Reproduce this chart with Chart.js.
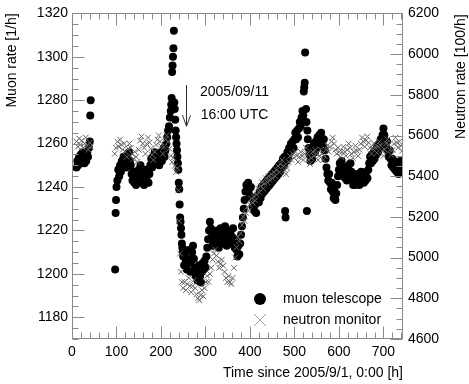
<!DOCTYPE html>
<html>
<head>
<meta charset="utf-8">
<script src="https://cdn.jsdelivr.net/npm/chart.js@4.4.1/dist/chart.umd.min.js"></script>
<style>
html,body{margin:0;padding:0;background:#fff;}
canvas{display:block;}
</style>
</head>
<body>
<canvas id="c" width="469" height="384" style="width:469px;height:384px"></canvas>
<script>
// ---------------- data ----------------
const xTicks = [0,100,200,300,400,500,600,700];
const muonTicks = [1180,1200,1220,1240,1260,1280,1300,1320];
const neutronTicks = [4600,4800,5000,5200,5400,5600,5800,6000,6200];

const muonHours = [
 10,12,14,16,18,20,22,24,26,28,30,32,34,36,38,40,41,42,
 97,98,99,100,102,104,106,108,110,112,114,116,118,120,122,124,126,128,130,
 132,134,136,138,140,142,144,146,148,150,152,154,156,158,160,162,164,166,168,170,172,174,
 176,178,180,182,184,186,188,190,192,194,196,198,200,202,204,206,208,210,212,214,216,218,220,222,223,224,
 225,226,227,228,229,230,231,232,233,234,235,236,237,238,239,240,241,242,243,244,245,246,247,248,249,
 250,252,254,256,258,260,262,264,266,268,270,272,274,276,278,280,282,284,286,288,290,292,294,296,298,300,
 302,304,306,308,310,312,314,316,318,320,322,324,326,328,330,332,334,336,338,340,342,344,346,348,350,
 352,354,356,358,360,362,364,366,368,370,372,374,376,378,380,382,384,386,388,390,392,394,396,398,400,
 402,404,406,408,410,412,414,416,418,420,422,424,426,428,430,432,434,436,438,440,442,444,446,448,450,
 452,454,456,458,460,462,464,466,468,470,472,474,476,478,479,480,482,484,486,488,490,492,494,496,498,500,
 502,504,506,508,510,512,514,516,518,520,521,522,523,524,526,527,528,529,530,
 532,534,536,538,540,542,544,546,548,550,552,554,556,558,560,562,564,566,568,570,572,574,576,578,580,
 582,584,586,588,590,592,594,596,598,600,602,604,606,608,610,612,614,616,618,620,622,624,626,628,630,
 632,634,636,638,640,642,644,646,648,650,652,654,656,658,660,662,664,666,668,670,672,674,676,678,680,
 682,684,686,688,690,692,694,696,698,700,702,704,706,708,710,712,714,716,718,720,722,724,726,728,730,732,734,736,738
];
const muonRates = [
 1249,1252,1250,1254,1251,1255,1252,1256,1253,1251,1255,1252,1256,1254,1258,1261,1273,1280,
 1202,1228,1234,1240,1243,1248,1245,1250,1247,1252,1249,1254,1250,1253,1249,1255,1251,1256,1252,
 1250,1246,1243,1247,1242,1245,1241,1246,1243,1248,1244,1250,1246,1242,1245,1241,1244,1248,1243,1247,1242,1246,
 1250,1253,1249,1254,1251,1256,1252,1255,1251,1254,1250,1253,1256,1252,1255,1258,1254,1257,1260,1263,1266,1268,1272,1275,1278,1281,
 1293,1296,1300,1304,1312,1279,1276,1271,1266,1263,1260,1257,1254,1251,1248,1242,1239,1232,1226,1224,1221,1218,1214,1212,1210,
 1208,1204,1210,1206,1202,1207,1211,1205,1201,1206,1210,1213,1207,1203,1199,1202,1197,1200,1204,1199,1196,1201,1205,1202,1206,1203,
 1208,1212,1216,1220,1224,1221,1217,1213,1216,1219,1218,1214,1220,1216,1212,1217,1221,1215,1219,1214,1218,1222,1217,1213,1216,
 1220,1215,1219,1214,1217,1221,1216,1212,1215,1211,1208,1213,1209,1214,1218,1222,1226,1230,1234,1238,1241,1238,1242,1239,1236,
 1240,1235,1231,1234,1229,1232,1228,1233,1236,1233,1238,1235,1240,1237,1241,1238,1242,1239,1243,1240,1244,1241,1245,1242,1246,
 1243,1247,1244,1248,1245,1249,1246,1250,1247,1251,1249,1253,1250,1254,1229,1226,1252,1256,1253,1258,1256,1260,1257,1261,1258,1262,
 1265,1262,1266,1263,1267,1270,1268,1272,1275,1273,1284,1286,1288,1302,1276,1270,1229,1266,1262,
 1258,1255,1252,1256,1253,1257,1260,1256,1261,1258,1263,1260,1264,1261,1265,1262,1259,1262,1257,1253,1249,1246,1243,1246,1242,
 1239,1242,1238,1235,1238,1234,1237,1241,1245,1248,1251,1248,1252,1249,1245,1248,1244,1247,1243,1246,1250,1247,1251,1247,1244,
 1241,1244,1241,1243,1246,1242,1245,1241,1244,1247,1243,1246,1242,1245,1243,1247,1244,1248,1251,1254,1251,1255,1252,1256,1253,
 1257,1255,1259,1256,1260,1258,1262,1260,1264,1267,1264,1261,1258,1261,1257,1254,1257,1253,1250,1253,1249,1252,1248,1251,1247,1250,1246,1249,1252
];

const neutronHours = [
 10,13,16,19,22,25,28,31,34,37,40,42,
 96,99,102,105,108,111,114,117,120,123,126,129,132,135,138,141,144,147,150,153,156,159,162,165,168,171,174,177,180,183,
 186,189,192,195,198,201,204,207,210,213,216,219,222,225,228,231,234,237,
 239,241,243,245,247,
 250,253,256,259,262,265,268,271,274,277,280,283,286,289,292,295,298,301,304,307,310,313,316,319,322,325,328,331,334,337,
 340,343,346,349,352,355,358,361,364,367,370,373,376,379,382,385,388,391,394,397,400,403,406,409,412,415,418,421,424,427,
 430,433,436,439,442,445,448,451,454,457,460,463,466,469,472,475,478,481,484,487,490,
 493,496,499,502,505,508,511,514,517,520,523,526,529,532,535,538,541,544,547,550,553,556,559,562,565,568,571,574,577,580,
 583,586,589,592,595,598,601,604,607,610,613,616,619,622,625,628,631,634,637,640,643,646,649,652,655,658,661,664,667,670,
 673,676,679,682,685,688,691,694,697,700,703,706,709,712,715,718,721,724,727,730,733,736,739,742
];
const neutronRates = [
 5570,5545,5585,5555,5575,5540,5560,5590,5550,5530,5565,5545,
 5510,5540,5570,5545,5580,5555,5530,5560,5520,5495,5535,5560,5540,5510,5485,5520,5495,5470,5530,5575,5595,5560,5540,5510,5560,5590,5565,5535,5505,5480,
 5520,5555,5580,5600,5570,5545,5510,5545,5580,5600,5570,5535,5500,5470,5490,5450,5420,5440,
 5330,5180,5020,4930,4880,
 4850,4880,4840,4870,4900,4860,4830,4860,4890,4850,4820,4800,4790,4815,4840,4810,4850,4880,4910,4880,4920,4950,4990,5020,5040,5010,4980,4950,4970,4990,
 4960,4930,4900,4880,4910,4880,4870,4900,4950,5000,5050,5100,5080,5120,5160,5200,5180,5220,5250,5230,5260,5290,5270,5300,5280,5310,5340,5320,5350,5370,
 5340,5365,5390,5370,5400,5380,5410,5390,5420,5400,5430,5450,5420,5460,5480,5450,5430,5410,5440,5470,5500,
 5480,5510,5490,5520,5500,5470,5495,5520,5500,5480,5510,5540,5510,5480,5460,5490,5520,5500,5530,5510,5480,5500,5530,5510,5480,5500,5530,5550,5520,5545,
 5570,5590,5560,5530,5510,5540,5520,5495,5520,5545,5520,5500,5530,5560,5540,5510,5490,5520,5550,5525,5500,5530,5560,5590,5570,5545,5575,5595,5565,5540,
 5510,5535,5560,5540,5515,5545,5570,5550,5525,5500,5530,5560,5580,5555,5530,5505,5530,5560,5590,5565,5540,5570,5550,5525
];

const eventHour = 256;           // 2005/09/11 16:00 UTC
const eventArrowFrom = 1287, eventArrowTo = 1268;

// ---------------- chart ----------------
const FONT = "'Liberation Sans', Arial, Helvetica, sans-serif";
Chart.defaults.font.family = FONT;
Chart.defaults.font.size = 14;
Chart.defaults.color = '#000';

const AXIS = '#8a8a8a';
const plain = v => String(v);

const decor = {
  id: 'decor',
  afterDraw(chart) {
    const {ctx, chartArea: a, scales} = chart;
    const x = scales.x, y = scales.y, y2 = scales.y2;
    ctx.save();
    ctx.strokeStyle = AXIS;
    ctx.lineWidth = 1;
    const L = Math.round(a.left) + 0.5, R = Math.round(a.right) - 0.5;
    const T = Math.round(a.top) + 0.5, B = Math.round(a.bottom) - 0.5;
    ctx.strokeRect(L, T, R - L, B - T);
    ctx.beginPath();
    for (let v = 0; v <= x.max; v += 20) {
      const px = Math.round(x.getPixelForValue(v)) + 0.5;
      const len = v % 100 === 0 ? 12 : 6;
      ctx.moveTo(px, B); ctx.lineTo(px, B - len);
      ctx.moveTo(px, T); ctx.lineTo(px, T + len);
    }
    for (let v = y.min; v <= y.max; v += 5) {
      const py = Math.round(y.getPixelForValue(v)) + 0.5;
      const len = v % 20 === 0 ? 12 : 6;
      ctx.moveTo(L, py); ctx.lineTo(L + len, py);
    }
    for (let v = y2.min; v <= y2.max; v += 50) {
      const py = Math.round(y2.getPixelForValue(v)) + 0.5;
      const len = v % 200 === 0 ? 12 : 6;
      ctx.moveTo(R, py); ctx.lineTo(R - len, py);
    }
    ctx.stroke();

    // right axis title (reads bottom to top)
    ctx.fillStyle = '#000';
    ctx.font = '14px ' + FONT;
    ctx.save();
    ctx.translate(461, a.top + 1);
    ctx.rotate(-Math.PI / 2);
    ctx.textAlign = 'right';
    ctx.textBaseline = 'middle';
    ctx.fillText('Neutron rate [100/h]', 0, 0);
    ctx.restore();

    // legend
    const lx = a.right - 143;
    ctx.beginPath();
    ctx.fillStyle = '#000';
    ctx.arc(lx, a.bottom - 40, 6, 0, Math.PI * 2);
    ctx.fill();
    ctx.strokeStyle = '#a0a0a0';
    ctx.beginPath();
    const cy = a.bottom - 19;
    ctx.moveTo(lx - 6, cy - 6); ctx.lineTo(lx + 6, cy + 6);
    ctx.moveTo(lx - 6, cy + 6); ctx.lineTo(lx + 6, cy - 6);
    ctx.stroke();
    ctx.fillStyle = '#000';
    ctx.textAlign = 'left';
    ctx.textBaseline = 'middle';
    ctx.fillText('muon telescope', a.right - 120, a.bottom - 40);
    ctx.fillText('neutron monitor', a.right - 120, a.bottom - 19);

    // event annotation
    const ax = Math.round(x.getPixelForValue(eventHour)) + 0.5;
    const ay0 = y.getPixelForValue(eventArrowFrom), ay1 = y.getPixelForValue(eventArrowTo);
    ctx.strokeStyle = '#333';
    ctx.beginPath();
    ctx.moveTo(ax, ay0); ctx.lineTo(ax, ay1);
    ctx.moveTo(ax - 4, ay1 - 11); ctx.lineTo(ax, ay1); ctx.lineTo(ax + 4, ay1 - 11);
    ctx.stroke();
    ctx.textAlign = 'center';
    ctx.fillText('2005/09/11', ax + 48, ay0 + 7);
    ctx.fillText('16:00 UTC', ax + 48, ay0 + 30);
    ctx.restore();
  }
};

new Chart(document.getElementById('c'), {
  type: 'scatter',
  data: {
    datasets: [
      {
        label: 'neutron monitor',
        data: neutronHours.map((h, i) => ({x: h, y: neutronRates[i]})),
        yAxisID: 'y2',
        pointStyle: 'crossRot',
        pointRadius: 4,
        borderColor: '#666',
        backgroundColor: '#666',
        borderWidth: 1,
        order: 0
      },
      {
        label: 'muon telescope',
        data: muonHours.map((h, i) => ({x: h, y: muonRates[i]})),
        yAxisID: 'y',
        pointStyle: 'circle',
        pointRadius: 4,
        backgroundColor: '#000',
        borderWidth: 0,
        order: 1
      }
    ]
  },
  options: {
    responsive: false,
    animation: false,
    events: [],
    layout: {padding: {top: 9, left: 0, right: 0, bottom: 0}},
    plugins: {legend: {display: false}, tooltip: {enabled: false}},
    scales: {
      x: {
        type: 'linear', position: 'bottom', min: 0, max: 744,
        grid: {display: false, drawTicks: false}, border: {display: false},
        ticks: {padding: 5, maxRotation: 0, autoSkip: false, callback: plain},
        afterBuildTicks: s => { s.ticks = xTicks.map(v => ({value: v})); },
        afterFit: s => { s.height = 45; },
        title: {display: true, text: 'Time since 2005/9/1, 0:00 [h]', align: 'end', padding: {top: 0, bottom: 2}}
      },
      y: {
        type: 'linear', position: 'left', min: 1170, max: 1320,
        grid: {display: false, drawTicks: false}, border: {display: false},
        ticks: {padding: 4, autoSkip: false, callback: plain},
        afterBuildTicks: s => { s.ticks = muonTicks.map(v => ({value: v})); },
        afterFit: s => { s.width = 72; },
        title: {display: true, text: 'Muon rate [1/h]', align: 'end', padding: {top: 4, bottom: 0}}
      },
      y2: {
        type: 'linear', position: 'right', min: 4600, max: 6200,
        grid: {display: false, drawTicks: false}, border: {display: false},
        ticks: {padding: 5, autoSkip: false, callback: plain},
        afterBuildTicks: s => { s.ticks = neutronTicks.map(v => ({value: v})); },
        afterFit: s => { s.width = 66; }
      }
    }
  },
  plugins: [decor]
});
</script>
</body>
</html>
